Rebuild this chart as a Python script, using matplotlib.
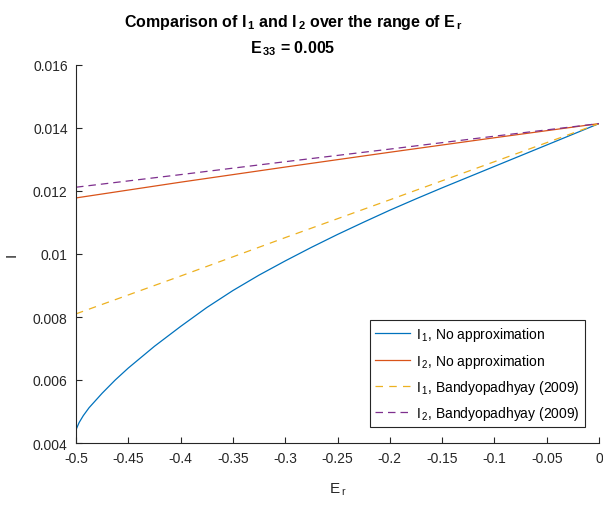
import matplotlib
matplotlib.use("Agg")
import matplotlib.pyplot as plt
from matplotlib.ticker import FormatStrFormatter

plt.rcParams['font.family'] = ['Liberation Sans', 'DejaVu Sans']
plt.rcParams['mathtext.default'] = 'regular'
plt.rcParams['axes.unicode_minus'] = False

# valeurs
Er_I1 = [-0.5, -0.497, -0.493, -0.4875, -0.475, -0.4625, -0.45, -0.425, -0.4, -0.375,
	-0.35, -0.325, -0.3, -0.275, -0.25, -0.225, -0.2, -0.175, -0.15, -0.125,
	-0.1, -0.075, -0.05, -0.025, 0.0]
I1_exact = [0.00442, 0.00465, 0.00487, 0.00512, 0.00558, 0.00600, 0.00638, 0.00707, 0.00770, 0.00830,
	0.00884, 0.00933, 0.00978, 0.01021, 0.01062, 0.01101, 0.01139, 0.01175, 0.01210, 0.01244,
	0.01278, 0.01312, 0.01346, 0.01380, 0.01414]

Er_lin = [-0.5, -0.4, -0.3, -0.2, -0.1, 0.0]
I2_exact = [0.01178, 0.01228, 0.01276, 0.01323, 0.01369, 0.01414]
I1_bandy = [0.00810, 0.00930, 0.01052, 0.01172, 0.01293, 0.01414]
I2_bandy = [0.01212, 0.01252, 0.01293, 0.01333, 0.01374, 0.01414]

couleurs = ["#0072BD", "#D95319", "#EDB120", "#7E2F8E"]

fig = plt.figure(figsize=(6.03, 5.06), dpi=100)
ax = fig.add_axes([76 / 603, 1 - 444 / 506, 523 / 603, 378 / 506])

ax.plot(Er_I1, I1_exact, color=couleurs[0], lw=0.9, label="I$_{\\,1}$, No approximation")
ax.plot(Er_lin, I2_exact, color=couleurs[1], lw=0.9, label="I$_{\\,2}$, No approximation")
ax.plot(Er_lin, I1_bandy, color=couleurs[2], lw=0.9, dashes=(6, 5), label="I$_{\\,1}$, Bandyopadhyay (2009)")
ax.plot(Er_lin, I2_bandy, color=couleurs[3], lw=0.9, dashes=(6, 4), label="I$_{\\,2}$, Bandyopadhyay (2009)")

ax.set_xlim(-0.5, 0)
ax.set_ylim(0.004, 0.016)
ax.set_xticks([-0.5 + 0.05 * i for i in range(11)])
ax.set_yticks([0.004, 0.006, 0.008, 0.01, 0.012, 0.014, 0.016])
ax.xaxis.set_major_formatter(FormatStrFormatter('%g'))
ax.yaxis.set_major_formatter(FormatStrFormatter('%g'))

for cote in ["top", "right"]:
	ax.spines[cote].set_visible(False)
for cote in ["left", "bottom"]:
	ax.spines[cote].set_color("#262626")
	ax.spines[cote].set_linewidth(0.8)
ax.tick_params(direction="in", length=4, width=0.8, color="#262626", labelcolor="#262626", labelsize=10, pad=6)

ax.set_xlabel("E$_{\\,r}$", fontsize=11, color="#262626", labelpad=11)
ax.set_ylabel("I", fontsize=11, color="#262626", rotation=90)
ax.yaxis.set_label_coords(-0.11, 0.5)

fig.text(293 / 603, 1 - 27 / 506, "Comparison of I$_{\\,1}$ and I$_{\\,2}$ over the range of E$_{\\,r}$",
	ha="center", va="baseline", fontsize=11.5, fontweight="bold")
fig.text(293 / 603, 1 - 53 / 506, "E$_{\\,33}$ = 0.005",
	ha="center", va="baseline", fontsize=11.5, fontweight="bold")

leg = ax.legend(loc="lower right", bbox_to_anchor=(0.973, 0.042), borderaxespad=0, fontsize=10, fancybox=False,
	framealpha=1, edgecolor="#262626", handlelength=2.5, handletextpad=0.45, borderpad=0.35, labelspacing=0.6)
leg.get_frame().set_linewidth(0.8)

fig.savefig("out.png", dpi=100)
